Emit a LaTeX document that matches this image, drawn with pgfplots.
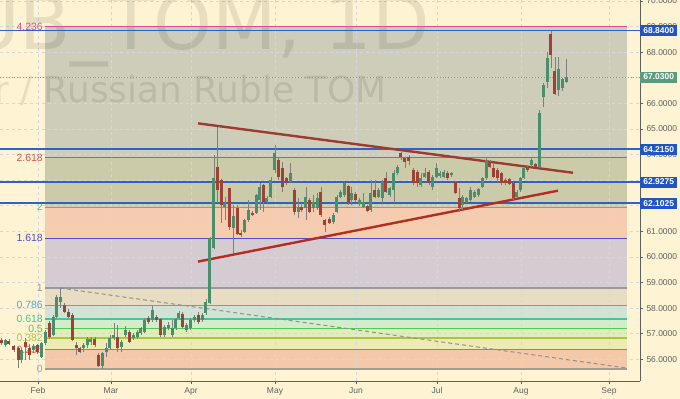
\documentclass[border=0pt]{standalone}
\usepackage{pgfplots}
\pgfplotsset{compat=1.18}
\usepackage{pgfplotstable}
\usepackage{fontspec}
\setmainfont{Liberation Sans}
\newfontfamily\wmfont{DejaVu Sans}
\definecolor{cream}{HTML}{FEF3D2}
\definecolor{f0}{HTML}{F3C9AA}
\definecolor{f1}{HTML}{EEEAB4}
\definecolor{f2}{HTML}{E2EDBE}
\definecolor{f3}{HTML}{D4ECCB}
\definecolor{f4}{HTML}{D3E3D3}
\definecolor{f5}{HTML}{E8DDC2}
\definecolor{f6}{HTML}{D5CCD2}
\definecolor{f7}{HTML}{F5CCB0}
\definecolor{f8}{HTML}{CBCBAA}
\definecolor{f9}{HTML}{CDCDB9}
\definecolor{l0}{HTML}{A39C95}
\definecolor{l236}{HTML}{E8624A}
\definecolor{l382}{HTML}{A8C83C}
\definecolor{l5}{HTML}{55C855}
\definecolor{l618}{HTML}{3FC89A}
\definecolor{l786}{HTML}{4BA8DA}
\definecolor{l1}{HTML}{9A9A9A}
\definecolor{l1618}{HTML}{4D4DD0}
\definecolor{l2}{HTML}{3CC88C}
\definecolor{l2618}{HTML}{D9534F}
\definecolor{l4236}{HTML}{E04A9A}
\definecolor{lblue}{HTML}{2F62C8}
\definecolor{boxblue}{HTML}{2155C4}
\definecolor{boxgreen}{HTML}{5B9A7E}
\definecolor{dotc}{HTML}{6FA5A5}
\definecolor{gridc}{HTML}{D6D6DE}
\definecolor{axisc}{HTML}{5E5E5E}
\definecolor{ticktext}{HTML}{606060}
\definecolor{upc}{HTML}{4A8F6C}
\definecolor{dnc}{HTML}{9E4236}
\definecolor{wickc}{HTML}{7E7E7E}
\definecolor{trendA}{HTML}{9E3B30}
\definecolor{trendB}{HTML}{B32D22}
\definecolor{diagc}{HTML}{8F8F8F}

\pgfplotstableread{
x o h l c
1.7 56.76 56.82 56.58 56.63
5.3 56.56 56.80 56.50 56.76
9.0 56.72 56.78 56.55 56.59
14.0 56.52 56.58 56.30 56.37
18.3 56.43 56.50 55.65 55.98
21.7 55.98 56.45 55.85 56.37
25.7 56.69 56.83 55.98 56.50
29.3 56.43 56.62 55.98 56.17
33.3 56.37 56.60 56.25 56.52
37.3 56.56 56.62 56.20 56.30
41.7 56.11 56.69 56.04 56.63
45.7 56.63 57.15 56.55 57.08
49.3 57.41 57.50 56.80 56.89
53.3 56.95 57.75 56.90 57.67
56.7 57.67 58.52 57.60 58.45
60.7 58.26 58.79 58.00 58.42
64.3 58.13 58.20 57.80 57.86
68.3 57.86 57.95 57.60 57.67
72.3 57.73 57.80 56.70 56.76
76.3 56.56 56.69 56.17 56.43
80.0 56.43 56.50 56.24 56.30
83.7 56.43 56.63 56.30 56.56
87.3 56.56 56.87 56.45 56.80
91.0 56.66 56.89 56.56 56.80
95.0 56.80 56.89 56.50 56.56
98.7 56.17 56.24 55.71 55.74
102.5 55.75 56.30 55.63 56.25
106.7 56.30 56.63 56.11 56.45
110.0 56.43 56.95 56.37 56.82
114.0 56.82 57.41 56.76 56.95
117.7 56.89 57.34 56.30 56.43
121.7 56.50 56.76 56.30 56.69
125.7 56.95 57.30 56.89 57.15
129.3 57.08 57.15 56.63 56.69
133.3 56.82 57.02 56.76 56.95
137.3 56.86 57.15 56.80 57.08
141.0 57.02 57.28 56.95 57.21
144.7 57.08 57.60 57.02 57.54
148.7 57.63 57.70 57.40 57.47
152.7 57.54 58.08 57.47 57.93
156.7 57.67 57.75 57.47 57.54
160.7 57.58 57.63 56.89 56.95
164.3 56.95 57.34 56.89 57.28
168.3 57.21 57.45 57.15 57.34
172.3 56.95 57.54 56.89 57.21
176.0 57.21 57.63 57.15 57.58
179.0 57.60 57.90 57.55 57.80
182.7 57.76 57.85 57.21 57.28
186.7 57.15 57.41 57.08 57.34
190.7 57.21 57.60 57.15 57.54
194.3 57.54 57.75 57.47 57.67
198.3 57.73 57.85 57.40 57.47
202.3 57.54 57.80 57.47 57.73
206.0 57.80 58.35 57.73 58.26
210.0 58.20 60.80 58.15 60.74
214.0 60.34 63.98 60.30 63.07
217.7 63.53 65.09 62.10 62.62
221.7 63.01 63.05 61.32 62.03
225.0 61.94 62.36 61.45 62.10
229.3 62.68 62.70 61.06 61.19
233.3 61.12 62.03 60.14 61.60
237.3 61.90 62.03 60.86 60.88
241.0 60.95 61.05 60.80 60.86
244.3 60.99 61.50 60.92 61.45
248.3 61.45 62.23 61.38 61.84
252.3 61.73 61.80 61.60 61.65
256.3 61.70 62.45 61.68 62.42
260.0 62.23 62.88 61.84 62.75
263.3 62.81 62.85 61.77 62.16
267.0 62.16 62.40 62.10 62.32
271.0 62.36 63.14 62.30 63.00
275.0 63.40 64.37 63.27 64.05
278.7 63.79 63.92 63.01 63.14
282.3 63.46 63.72 62.55 62.75
286.7 63.07 63.14 62.80 62.88
290.7 62.94 63.66 62.88 63.27
294.3 62.62 62.68 61.64 61.77
298.3 61.77 62.29 61.51 61.97
301.7 61.97 62.10 61.77 61.84
306.0 61.90 62.75 61.45 62.36
309.3 62.23 62.30 61.70 61.77
313.3 61.90 62.42 61.77 62.16
317.3 61.90 62.49 61.84 62.29
321.0 62.55 62.75 61.58 61.64
325.0 61.45 61.50 60.99 61.25
329.3 61.47 61.55 61.30 61.34
333.3 61.38 61.70 61.30 61.64
337.0 61.77 62.42 61.70 62.36
340.7 62.36 62.62 62.30 62.55
344.3 62.42 62.94 62.36 62.88
348.3 62.79 62.81 62.03 62.10
351.7 62.23 62.75 62.03 62.49
355.7 62.46 62.55 62.16 62.23
359.3 62.07 62.30 62.00 62.23
363.3 61.97 62.49 61.90 62.16
367.3 61.99 62.03 61.75 61.81
371.0 61.84 63.01 61.77 62.49
375.0 62.62 63.01 62.29 62.36
378.3 62.36 62.70 62.30 62.62
382.3 62.29 63.01 62.10 62.94
386.0 63.07 63.33 62.49 62.55
390.0 62.42 62.75 62.36 62.68
394.0 62.62 63.40 62.10 63.27
397.7 63.27 63.60 63.20 63.53
401.0 64.05 64.12 63.79 63.92
405.0 63.85 63.92 63.46 63.72
409.0 63.92 63.98 63.59 63.76
413.3 63.40 63.46 62.81 62.88
417.3 63.33 63.40 62.75 62.88
421.0 62.81 63.27 62.75 63.07
425.0 63.14 63.46 63.07 63.29
429.0 63.33 63.40 62.81 62.88
432.7 62.75 63.20 62.62 63.14
436.3 63.14 63.66 63.07 63.46
440.0 63.16 63.35 63.10 63.27
444.0 63.14 63.40 63.07 63.33
447.7 63.29 63.35 63.00 63.07
451.7 63.20 63.33 63.14 63.27
455.3 62.94 62.98 62.47 62.49
459.3 62.29 62.68 61.77 61.90
462.7 62.03 62.42 61.84 62.36
466.7 62.16 62.36 62.10 62.29
470.7 62.23 62.75 62.16 62.62
474.3 62.36 62.60 62.30 62.55
478.3 62.42 62.70 62.36 62.64
482.3 62.75 63.14 62.68 63.07
486.3 63.07 63.85 63.00 63.79
490.0 63.70 63.79 63.46 63.50
493.5 63.46 63.66 63.07 63.14
497.3 63.40 63.46 62.94 63.07
501.7 63.27 63.33 62.81 62.88
505.7 63.01 63.07 62.81 62.88
509.3 63.04 63.07 62.81 62.85
513.3 62.90 62.92 62.23 62.29
517.0 62.33 62.62 62.29 62.55
520.3 62.62 63.14 62.55 63.07
524.0 63.07 63.53 63.04 63.46
527.7 63.53 63.59 63.33 63.40
531.3 63.60 63.85 63.53 63.79
535.3 63.63 63.69 63.50 63.53
539.3 63.53 65.74 63.46 65.61
543.3 66.26 66.80 65.87 66.72
547.3 66.85 68.00 66.60 67.77
551.0 68.71 68.84 67.40 67.90
555.0 67.25 67.80 66.33 66.37
558.7 66.52 67.80 66.30 67.33
562.5 66.59 67.00 66.50 66.94
566.5 66.84 67.73 66.80 67.03
}\candles

\begin{document}
\begin{tikzpicture}
\fill[cream] (0bp,0bp) rectangle (680bp,399bp);
\begin{axis}[
  at={(0bp,18bp)}, anchor=south west, scale only axis,
  width=640bp, height=381bp,
  xmin=0, xmax=640, ymin=55.156, ymax=70.039,
  clip=false,
  axis x line*=bottom, axis y line*=right,
  axis line style={-, draw=axisc, line width=0.8bp},
  xtick={38,111,191,275,356,437,521,609},
  xticklabels={Feb,Mar,Apr,May,Jun,Jul,Aug,Sep},
  ytick={56,57,...,70},
  tick align=outside, major tick length=3bp,
  tick style={draw=axisc, line width=0.6bp},
  xticklabel style={font=\fontsize{8.5}{10}\selectfont, text=ticktext},
  yticklabel style={font=\fontsize{8.5}{10}\selectfont, text=ticktext,
     /pgf/number format/fixed, /pgf/number format/fixed zerofill,
     /pgf/number format/precision=4, /pgf/number format/assume math mode=true},
]
% Fibonacci zones
\addplot[fill=f0, draw=none, forget plot] coordinates {(45,55.630) (627,55.630) (627,56.375) (45,56.375)};
\addplot[fill=f1, draw=none, forget plot] coordinates {(45,56.375) (627,56.375) (627,56.835) (45,56.835)};
\addplot[fill=f2, draw=none, forget plot] coordinates {(45,56.835) (627,56.835) (627,57.208) (45,57.208)};
\addplot[fill=f3, draw=none, forget plot] coordinates {(45,57.208) (627,57.208) (627,57.580) (45,57.580)};
\addplot[fill=f4, draw=none, forget plot] coordinates {(45,57.580) (627,57.580) (627,58.110) (45,58.110)};
\addplot[fill=f5, draw=none, forget plot] coordinates {(45,58.110) (627,58.110) (627,58.785) (45,58.785)};
\addplot[fill=f6, draw=none, forget plot] coordinates {(45,58.785) (627,58.785) (627,60.735) (45,60.735)};
\addplot[fill=f7, draw=none, forget plot] coordinates {(45,60.735) (627,60.735) (627,61.940) (45,61.940)};
\addplot[fill=f8, draw=none, forget plot] coordinates {(45,61.940) (627,61.940) (627,63.890) (45,63.890)};
\addplot[fill=f9, draw=none, forget plot] coordinates {(45,63.890) (627,63.890) (627,68.995) (45,68.995)};
% grid
\pgfplotsinvokeforeach{56,57,...,70}{\addplot[gridc, dash pattern=on 3bp off 3bp, line width=0.6bp, forget plot] coordinates {(0,#1) (640,#1)};}
\pgfplotsinvokeforeach{38,111,191,275,356,437,521,609}{\addplot[gridc, dash pattern=on 3bp off 3bp, line width=0.6bp, forget plot] coordinates {(#1,55.156) (#1,70.039)};}
% watermark
\node[anchor=base east, font=\wmfont\fontsize{75}{75}\selectfont, text=black, text opacity=0.09, inner sep=0pt] at (axis cs:430,68.086) {USDRUB\_TOM, 1D};
\node[anchor=base east, font=\wmfont\fontsize{36}{36}\selectfont, text=black, text opacity=0.09, inner sep=0pt] at (axis cs:387,66.016) {US Dollar / Russian Ruble TOM};
% Fibonacci level lines
\addplot[l0, line width=1.8bp, forget plot] coordinates {(45,55.630) (627,55.630)};
\addplot[l236, line width=1.4bp, forget plot] coordinates {(45,56.375) (627,56.375)};
\addplot[l382, line width=1.2bp, forget plot] coordinates {(45,56.835) (627,56.835)};
\addplot[l5, line width=1.4bp, forget plot] coordinates {(45,57.208) (627,57.208)};
\addplot[l618, line width=1.4bp, forget plot] coordinates {(45,57.580) (627,57.580)};
\addplot[l786, line width=1.2bp, forget plot] coordinates {(45,58.110) (627,58.110)};
\addplot[l1, line width=1.8bp, forget plot] coordinates {(45,58.785) (627,58.785)};
\addplot[l1618, line width=1bp, forget plot] coordinates {(45,60.735) (627,60.735)};
\addplot[l2, line width=1bp, forget plot] coordinates {(45,61.940) (627,61.940)};
\addplot[l2618, line width=1bp, forget plot] coordinates {(45,63.890) (627,63.890)};
\addplot[l4236, line width=1bp, forget plot] coordinates {(45,68.995) (627,68.995)};
\begin{scope}[every node/.style={anchor=east, inner sep=0pt, font=\fontsize{10.5}{12}\selectfont}]
\node[text=l0] at (axis cs:43,55.630) {0};
\node[text=l236] at (axis cs:43,56.375) {0.236};
\node[text=l382] at (axis cs:43,56.835) {0.382};
\node[text=l5] at (axis cs:43,57.208) {0.5};
\node[text=l618] at (axis cs:43,57.580) {0.618};
\node[text=l786] at (axis cs:43,58.110) {0.786};
\node[text=l1] at (axis cs:43,58.785) {1};
\node[text=l1618] at (axis cs:43,60.735) {1.618};
\node[text=l2] at (axis cs:43,61.940) {2};
\node[text=l2618] at (axis cs:43,63.890) {2.618};
\node[text=l4236] at (axis cs:43,68.995) {4.236};
\end{scope}
% diagonal dashed line
\addplot[diagc, dash pattern=on 4bp off 3bp, line width=1bp, forget plot] coordinates {(60,58.79) (627,55.66)};
% horizontal levels
\addplot[lblue, line width=1.6bp, forget plot] coordinates {(0,68.84) (640,68.84)};
\addplot[lblue, line width=1.6bp, forget plot] coordinates {(0,64.215) (640,64.215)};
\addplot[lblue, line width=1.6bp, forget plot] coordinates {(0,62.9275) (640,62.9275)};
\addplot[lblue, line width=1.6bp, forget plot] coordinates {(0,62.1025) (640,62.1025)};
\addplot[dotc, dotted, line width=0.9bp, forget plot] coordinates {(0,67.03) (640,67.03)};
% trend lines
\addplot[trendA, line width=2.4bp, forget plot] coordinates {(198,65.22) (573,63.29)};
\addplot[trendB, line width=2.4bp, forget plot] coordinates {(198,59.82) (558,62.59)};
% candles: wicks
\addplot[draw=none, mark=none, forget plot,
  error bars/.cd, y dir=plus, y explicit, error mark=none,
  error bar style={draw=wickc, line width=0.9bp}]
  table[x=x, y=l, y error expr={\thisrow{h}-\thisrow{l}}] {\candles};
% up bodies
\addplot[draw=none, mark=none, forget plot,
  restrict expr to domain={\thisrow{c}-\thisrow{o}}{0:100},
  error bars/.cd, y dir=plus, y explicit, error mark=none,
  error bar style={draw=upc, line width=3bp}]
  table[x=x, y=o, y error expr={max(\thisrow{c}-\thisrow{o},0.04)}] {\candles};
% down bodies
\addplot[draw=none, mark=none, forget plot,
  restrict expr to domain={\thisrow{o}-\thisrow{c}}{0.00001:100},
  error bars/.cd, y dir=plus, y explicit, error mark=none,
  error bar style={draw=dnc, line width=3bp}]
  table[x=x, y=c, y error expr={max(\thisrow{o}-\thisrow{c},0.04)}] {\candles};
\coordinate (b1) at (axis cs:640,68.84);
\coordinate (b2) at (axis cs:640,67.03);
\coordinate (b3) at (axis cs:640,64.215);
\coordinate (b4) at (axis cs:640,62.9275);
\coordinate (b5) at (axis cs:640,62.1025);
\end{axis}
\begin{scope}[every node/.style={anchor=west, text=white, font=\bfseries\fontsize{8.5}{10}\selectfont, minimum width=37bp, minimum height=11bp, inner sep=0pt}]
\node[fill=boxblue] at (b1) {68.8400};
\node[fill=boxgreen] at (b2) {67.0300};
\node[fill=boxblue] at (b3) {64.2150};
\node[fill=boxblue] at (b4) {62.9275};
\node[fill=boxblue] at (b5) {62.1025};
\end{scope}
\pgfresetboundingbox
\path (0bp,0bp) rectangle (680bp,399bp);
\end{tikzpicture}
\end{document}
